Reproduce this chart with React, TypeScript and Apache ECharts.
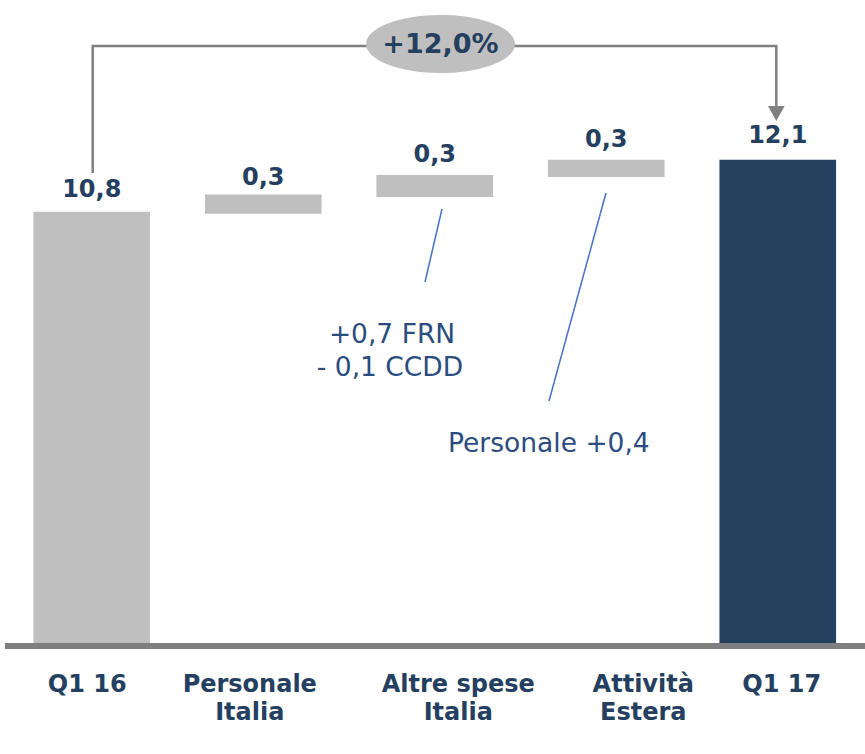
import React, { useEffect, useRef } from "react";
import * as echarts from "echarts";

const categories = ["Q1 16", "Personale\nItalia", "Altre spese\nItalia", "Attività\nEstera", "Q1 17"];
// invisible base of floating bars
const baseValues = [0, 10.75, 11.17, 11.67, 0];
// visible bar extent
const barValues = [10.8, 0.48, 0.55, 0.43, 12.1];
// printed value labels
const valueLabels = ["10,8", "0,3", "0,3", "0,3", "12,1"];
const labelDistances = [11, 6, 8.5, 9, 12.5];
// horizontal offset of each category label from its bar centre (px)
const labelShifts = [-4.5, -13.5, 23.5, 37, 4];
const barColors = ["#BFBFBF", "#BFBFBF", "#BFBFBF", "#BFBFBF", "#253F5F"];
const growthLabel = "+12,0%";
const noteFRN = ["+0,7 FRN", "- 0,1 CCDD"];
const notePersonale = "Personale +0,4";

const NAVY = "#243F60";
const NOTE = "#2B4C7E";
const FONT = "DejaVu Sans";

const rich: Record<string, any> = {};
labelShifts.forEach((d, i) => {
  rich["c" + i] = {
    color: NAVY,
    fontFamily: FONT,
    fontWeight: "bold",
    fontSize: 24,
    lineHeight: 28.5,
    padding: d >= 0 ? [0, 0, 0, 2 * d] : [0, -2 * d, 0, 0],
  };
});

export default function App() {
  const ref = useRef<HTMLDivElement>(null);
  useEffect(() => {
    if (!ref.current) return;
    const chart = echarts.init(ref.current, undefined, { renderer: "svg" });
    chart.setOption({
      animation: false,
      backgroundColor: "#FFFFFF",
      textStyle: { fontFamily: FONT },
      grid: { left: 6, right: 1.5, top: 44, bottom: 111, containLabel: false },
      xAxis: {
        type: "category",
        data: categories,
        axisLine: { show: false },
        axisTick: { show: false },
        axisLabel: {
          color: NAVY,
          fontFamily: FONT,
          fontWeight: "bold",
          fontSize: 24,
          lineHeight: 28.5,
          margin: 26.5,
          interval: 0,
          formatter: (v: string, i: number) =>
            v
              .split("\n")
              .map((line) => `{c${i}|${line}}`)
              .join("\n"),
          rich,
        },
      },
      yAxis: { type: "value", min: 0, max: 15, show: false, splitLine: { show: false } },
      series: [
        {
          type: "bar",
          stack: "w",
          data: baseValues,
          itemStyle: { color: "transparent" },
          barWidth: "68%",
          silent: true,
        },
        {
          type: "bar",
          stack: "w",
          barWidth: "68%",
          data: barValues.map((v, i) => ({
            value: v,
            itemStyle: { color: barColors[i] },
            label: { distance: labelDistances[i] },
          })),
          label: {
            show: true,
            position: "top",
            color: NAVY,
            fontFamily: FONT,
            fontWeight: "bold",
            fontSize: 24,
            formatter: (p: any) => valueLabels[p.dataIndex],
          },
        },
      ],
      graphic: [
        { type: "rect", shape: { x: 5, y: 643, width: 860, height: 6 }, style: { fill: "#7F7F7F" }, z: 10 },
        {
          type: "polyline",
          shape: { points: [[92.7, 173], [92.7, 46], [370, 46]] },
          style: { stroke: "#808080", lineWidth: 2.5, fill: "none" },
        },
        {
          type: "polyline",
          shape: { points: [[512, 46], [776.3, 46], [776.3, 107]] },
          style: { stroke: "#808080", lineWidth: 2.5, fill: "none" },
        },
        {
          type: "polygon",
          shape: { points: [[768, 106], [784.6, 106], [776.3, 121]] },
          style: { fill: "#808080" },
        },
        {
          type: "ellipse",
          shape: { cx: 440.5, cy: 44, rx: 74.5, ry: 29 },
          style: { fill: "#BFBFBF" },
        },
        {
          type: "text",
          x: 440.5,
          y: 43,
          style: {
            text: growthLabel,
            fill: NAVY,
            font: `bold 27px ${FONT}`,
            align: "center",
            verticalAlign: "middle",
          },
        },
        {
          type: "line",
          shape: { x1: 442, y1: 209, x2: 425, y2: 282 },
          style: { stroke: "#4472C4", lineWidth: 1.5 },
        },
        {
          type: "line",
          shape: { x1: 606, y1: 193, x2: 549, y2: 401 },
          style: { stroke: "#4472C4", lineWidth: 1.5 },
        },
        {
          type: "text",
          x: 392,
          y: 333,
          style: { text: noteFRN[0], fill: NOTE, font: `26.5px ${FONT}`, align: "center", verticalAlign: "middle" },
        },
        {
          type: "text",
          x: 390,
          y: 366,
          style: { text: noteFRN[1], fill: NOTE, font: `26.5px ${FONT}`, align: "center", verticalAlign: "middle" },
        },
        {
          type: "text",
          x: 448,
          y: 442,
          style: { text: notePersonale, fill: NOTE, font: `26.5px ${FONT}`, align: "left", verticalAlign: "middle" },
        },
      ],
    });
    return () => chart.dispose();
  }, []);
  return <div ref={ref} style={{ position: "fixed", left: 0, top: 0, width: 865, height: 754 }} />;
}
